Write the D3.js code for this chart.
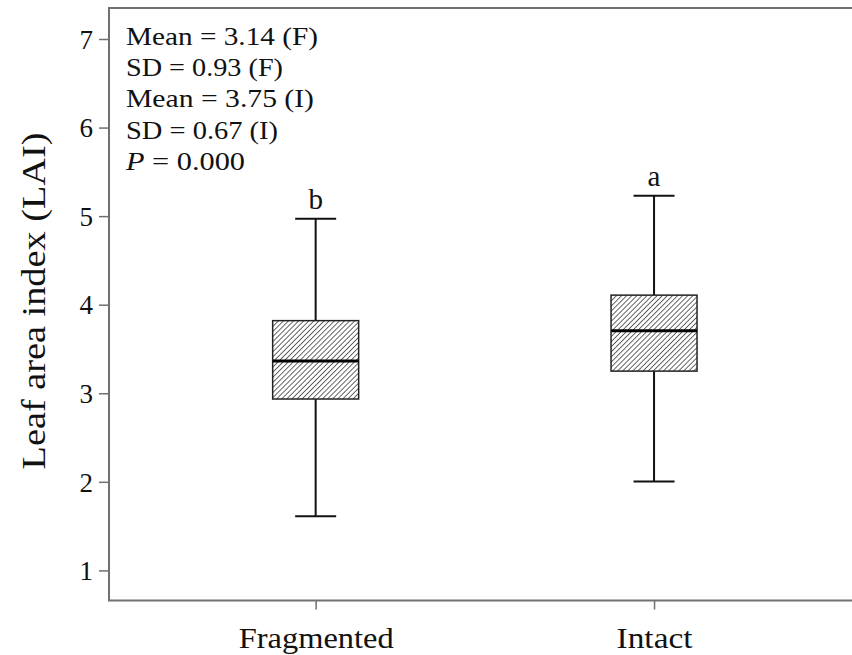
<!DOCTYPE html>
<html>
<head>
<meta charset="utf-8">
<script src="https://cdn.jsdelivr.net/npm/d3@7"></script>
<style>
  body { margin: 0; background: #fff; }
  svg text { font-family: "Liberation Serif", "Times New Roman", serif; fill: #111; }
</style>
</head>
<body>
<div id="chart"></div>
<script>
// data
const groups = ["Fragmented", "Intact"]
const whiskerLow = [1.61, 2.005]
const boxLow = [2.935, 3.25]
const medians = [3.363, 3.705]
const boxHigh = [3.82, 4.108]
const whiskerHigh = [4.97, 5.23]
const groupLetters = ["b", "a"]
const yTicks = [1, 2, 3, 4, 5, 6, 7]
const statLines = ["Mean = 3.14 (F)", "SD = 0.93 (F)", "Mean = 3.75 (I)", "SD = 0.67 (I)", "P = 0.000"]
const statWidths = [192, 157, 188, 152, 119]

function drawChart() {
    const dimensions = {
        width: 852,
        height: 655,
        margin: { top: 8, right: 0, bottom: 54.5, left: 109 }
    }
    dimensions.boundedWidth = dimensions.width - dimensions.margin.left - dimensions.margin.right
    dimensions.boundedHeight = dimensions.height - dimensions.margin.top - dimensions.margin.bottom

    const svg = d3.select("#chart").append("svg")
        .attr("width", dimensions.width)
        .attr("height", dimensions.height)

    const defs = svg.append("defs")
    defs.append("pattern")
        .attr("id", "hatch")
        .attr("patternUnits", "userSpaceOnUse")
        .attr("width", 3.6)
        .attr("height", 3.6)
        .attr("patternTransform", "rotate(45)")
        .append("line")
            .attr("x1", 0).attr("y1", 0)
            .attr("x2", 0).attr("y2", 3.6)
            .attr("stroke", "#333")
            .attr("stroke-width", 1.5)

    const chart = svg.append("g")
        .attr("transform", `translate(${dimensions.margin.left}, ${dimensions.margin.top})`)

    const x = d3.scalePoint()
        .domain(groups)
        .range([8.7, dimensions.boundedWidth])
        .padding(0.585)

    const y = d3.scaleLinear()
        .domain([0.66, 7.35])
        .range([dimensions.boundedHeight, 0])

    const boxWidth = 86
    const capWidth = 41
    const axisColor = "#707070"

    // frame (top, left, bottom)
    chart.append("path")
        .attr("d", `M${dimensions.boundedWidth + 2},0H0V${dimensions.boundedHeight}H${dimensions.boundedWidth + 2}`)
        .attr("fill", "none")
        .attr("stroke", axisColor)
        .attr("stroke-width", 2)

    // y axis
    const yAxis = chart.append("g")
        .call(d3.axisLeft(y).tickValues(yTicks).tickSize(10).tickPadding(6).tickFormat(d3.format("d")))
    yAxis.attr("font-family", null).attr("font-size", null)
    yAxis.select(".domain").remove()
    yAxis.selectAll("line").attr("stroke", axisColor).attr("stroke-width", 1.5)
    yAxis.selectAll("text")
        .attr("font-size", 27)
        .attr("fill", "#111")
        .attr("dy", "0.34em")

    // x axis
    const xAxis = chart.append("g")
        .attr("transform", `translate(0, ${dimensions.boundedHeight})`)
        .call(d3.axisBottom(x).tickSize(9).tickPadding(0))
    xAxis.attr("font-family", null).attr("font-size", null)
    xAxis.select(".domain").remove()
    xAxis.selectAll("line").attr("stroke", axisColor).attr("stroke-width", 1.5)
    xAxis.selectAll("text").remove()
    xAxis.selectAll(".tick").append("text")
        .attr("y", 47.5)
        .attr("text-anchor", "middle")
        .attr("font-size", 30)
        .attr("textLength", (d, i) => i === 0 ? 155 : 76)
        .attr("lengthAdjust", "spacingAndGlyphs")
        .text(d => d)

    // y title
    svg.append("text")
        .attr("transform", `translate(45, 301) rotate(-90)`)
        .attr("text-anchor", "middle")
        .attr("font-size", 33)
        .attr("textLength", 337)
        .attr("lengthAdjust", "spacingAndGlyphs")
        .text("Leaf area index (LAI)")

    // boxes
    const boxes = chart.selectAll(".box")
        .data(groups)
        .join("g")
            .attr("class", "box")
            .attr("transform", d => `translate(${x(d)}, 0)`)

    boxes.append("line")
        .attr("y1", (d, i) => y(whiskerLow[i]))
        .attr("y2", (d, i) => y(whiskerHigh[i]))
        .attr("stroke", "#111")
        .attr("stroke-width", 2)

    boxes.append("line")
        .attr("x1", -capWidth / 2).attr("x2", capWidth / 2)
        .attr("y1", (d, i) => y(whiskerLow[i]))
        .attr("y2", (d, i) => y(whiskerLow[i]))
        .attr("stroke", "#111")
        .attr("stroke-width", 2)

    boxes.append("line")
        .attr("x1", -capWidth / 2).attr("x2", capWidth / 2)
        .attr("y1", (d, i) => y(whiskerHigh[i]))
        .attr("y2", (d, i) => y(whiskerHigh[i]))
        .attr("stroke", "#111")
        .attr("stroke-width", 2)

    boxes.append("rect")
        .attr("x", -boxWidth / 2)
        .attr("width", boxWidth)
        .attr("y", (d, i) => y(boxHigh[i]))
        .attr("height", (d, i) => y(boxLow[i]) - y(boxHigh[i]))
        .attr("fill", "#fff")
    boxes.append("rect")
        .attr("x", -boxWidth / 2)
        .attr("width", boxWidth)
        .attr("y", (d, i) => y(boxHigh[i]))
        .attr("height", (d, i) => y(boxLow[i]) - y(boxHigh[i]))
        .attr("fill", "url(#hatch)")
        .attr("stroke", "#222")
        .attr("stroke-width", 1.5)

    boxes.append("line")
        .attr("x1", -boxWidth / 2).attr("x2", boxWidth / 2)
        .attr("y1", (d, i) => y(medians[i]))
        .attr("y2", (d, i) => y(medians[i]))
        .attr("stroke", "#000")
        .attr("stroke-width", 3)

    boxes.append("text")
        .attr("y", (d, i) => y(whiskerHigh[i]) - 10)
        .attr("text-anchor", "middle")
        .attr("font-size", 29)
        .text((d, i) => groupLetters[i])

    // stats block
    const stats = svg.append("g")
        .attr("transform", "translate(126, 45)")
    stats.selectAll("text")
        .data(statLines)
        .join("text")
            .attr("y", (d, i) => i * 31.2)
            .attr("font-size", 26)
            .attr("textLength", (d, i) => statWidths[i])
            .attr("lengthAdjust", "spacingAndGlyphs")
            .each(function(d) {
                const t = d3.select(this)
                if (d.startsWith("P")) {
                    t.append("tspan").attr("font-style", "italic").text("P")
                    t.append("tspan").text(d.slice(1))
                } else {
                    t.text(d)
                }
            })
}

drawChart()
</script>
</body>
</html>
